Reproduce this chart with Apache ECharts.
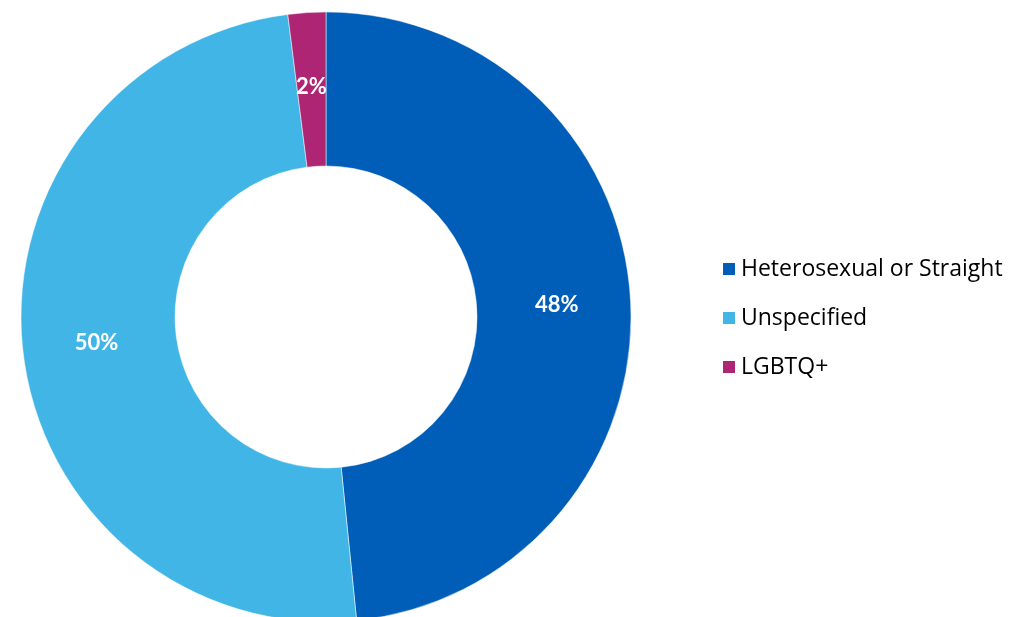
<!DOCTYPE html>
<html>
<head>
<meta charset="utf-8">
<style>
  html, body { margin: 0; padding: 0; background: #fff; }
  #chart { width: 1010px; height: 617px; }
</style>
<script src="https://cdn.jsdelivr.net/npm/echarts@6/dist/echarts.min.js"></script>
</head>
<body>
<div id="chart"></div>
<script>
  // categories and shares (%), labels show rounded values
  var categories = ['Heterosexual or Straight', 'Unspecified', 'LGBTQ+'];
  var shares = [48.4, 49.6, 2.0];
  var colors = ['#005EB8', '#41B6E6', '#AE2573'];

  var myChart = echarts.init(document.getElementById('chart'));
  var option = {
    animation: false,
    legend: {
      orient: 'vertical',
      left: 716,
      top: 252,
      itemWidth: 14,
      itemHeight: 14,
      itemGap: 25,
      icon: 'rect',
      data: categories,
      textStyle: {
        fontFamily: 'Open Sans',
        fontSize: 23,
        lineHeight: 24,
        color: '#000'
      }
    },
    series: [
      {
        type: 'pie',
        center: [326, 317],
        radius: [151, 305],
        startAngle: 90,
        clockwise: true,
        itemStyle: { borderColor: '#fff', borderWidth: 0.5 },
        label: {
          position: 'inside',
          formatter: function (p) { return Math.round(p.value) + '%'; },
          color: '#fff',
          fontFamily: 'Lato',
          fontWeight: 'bold',
          fontSize: 22
        },
        labelLine: { show: false },
        data: categories.map(function (name, i) {
          return { name: name, value: shares[i], itemStyle: { color: colors[i] } };
        })
      }
    ]
  };
  myChart.setOption(option);
</script>
</body>
</html>
